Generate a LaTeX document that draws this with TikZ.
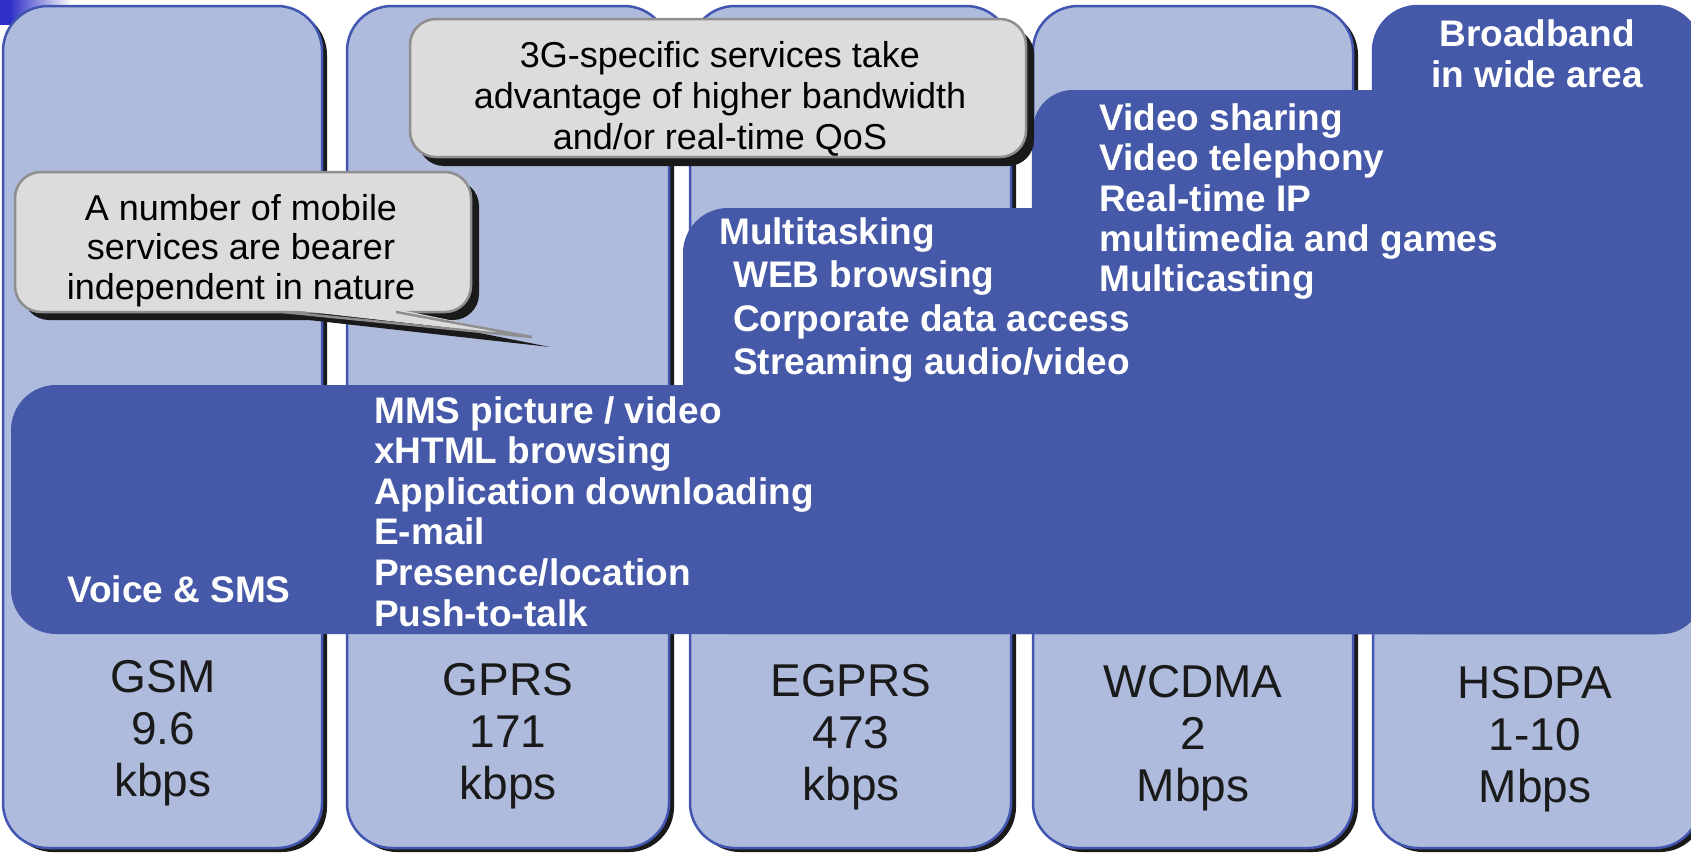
\documentclass[tikz,border=0pt]{standalone}
\usepackage{fontspec}
\setmainfont{Liberation Sans}

\definecolor{colfill}{HTML}{AFBBDD}
\definecolor{colline}{HTML}{4255B0}
\definecolor{bandfill}{HTML}{4659A9}
\definecolor{notefill}{HTML}{DCDCDC}
\definecolor{noteline}{HTML}{8E8E8E}
\definecolor{shadowcol}{HTML}{1A1A1A}
\definecolor{cornerblue}{HTML}{3030C8}
\definecolor{labeltext}{HTML}{1A1A1A}

\tikzset{
  colbox/.style={draw=colline, line width=2.5pt, fill=colfill, rounded corners=45pt},
  colshadow/.style={fill=shadowcol, rounded corners=45pt},
  darkarea/.style={fill=bandfill, rounded corners=45pt},
  notebox/.style={draw=noteline, line width=2.5pt, fill=notefill, rounded corners=26pt},
  noteshadow/.style={fill=shadowcol, rounded corners=26pt},
  rate/.style={font=\fontsize{46}{52}\selectfont, text=labeltext, inner sep=0pt, anchor=base},
  svc/.style={font=\fontsize{37}{40}\selectfont\bfseries, text=white, inner sep=0pt, anchor=base west},
  notetext/.style={font=\fontsize{36}{40}\selectfont, text=black, inner sep=0pt, anchor=base}
}

\begin{document}
\begin{tikzpicture}[x=1pt, y=-1pt]
  \useasboundingbox (0,0) rectangle (1691,852);
  \clip (0,0) rectangle (1691,852);
  \fill[white] (0,0) rectangle (1691,852);

  % small shaded tab in the upper left corner
  \fill[cornerblue] (0,0) rectangle (10,25);
  \shade[left color=cornerblue, right color=white] (10,0) rectangle (72,25);

  % the five bearer columns with drop shadows
  \foreach \lx/\rx in {3/322, 347/669, 690/1011, 1033/1353, 1373/1700}{
    \fill[colshadow] (\lx+5,10) rectangle (\rx+5,852);
    \path[colbox] (\lx,6) rectangle (\rx,848);
  }

  % dark service areas
  \path[darkarea] (11,385) rectangle (1702,634);
  \path[darkarea] (683,208) rectangle (1702,634);
  \path[darkarea, rounded corners=40pt] (1033,90) rectangle (1702,634);
  \path[darkarea] (1373,6) rectangle (1702,634);

  % callout: bearer independent services
  \fill[noteshadow] (23,180) rectangle (479,320);
  \fill[shadowcol] (291,318) -- (550,347) -- (404,318) -- cycle;
  \path[notebox] (15,172) rectangle (471,312);
  \fill[notefill] (283,309) -- (532,337) -- (396,309) -- cycle;
  \draw[noteline, line width=2.5pt, line join=miter] (283,312) -- (532,337) -- (396,312);

  % callout: 3G-specific services
  \fill[noteshadow] (418,28) rectangle (1034,166);
  \path[notebox] (410,19) rectangle (1026,157);

  % bearer names and peak rates
  \foreach \cx/\a/\b/\c/\by [count=\i] in {163/GSM/9.6/kbps/692, 508/GPRS/171/kbps/695,
      851/EGPRS/473/kbps/696, 1193/WCDMA/2/Mbps/697, 1535/HSDPA/1-10/Mbps/698}{
    \node[rate] (tech\i) at (\cx,\by) {\a};
    \node[rate] (speed\i) at (\cx,\by+52) {\b};
    \node[rate] (unit\i) at (\cx,\by+104) {\c};
  }

  % services available on every bearer
  \node[svc] (voice) at (67,602) {Voice \& SMS};
  \foreach \t [count=\i] in {MMS picture / video, xHTML browsing, Application downloading,
      E-mail, Presence/location, Push-to-talk}{
    \node[svc] (gprs\i) at (374,382.4+40.6*\i) {\t};
  }

  % services from EGPRS onwards
  \node[svc] (multi) at (719,244) {Multitasking};
  \foreach \t [count=\i] in {WEB browsing, Corporate data access, Streaming audio/video}{
    \node[svc] (egprs\i) at (733,244+43.5*\i) {\t};
  }

  % services from WCDMA onwards
  \foreach \t [count=\i] in {Video sharing, Video telephony, Real-time IP,
      multimedia and games, Multicasting}{
    \node[svc] (wcdma\i) at (1099,90.2+40.3*\i) {\t};
  }

  % HSDPA
  \node[svc, anchor=base] (bb1) at (1537,46) {Broadband};
  \node[svc, anchor=base] (bb2) at (1537,87) {in wide area};

  % callout texts
  \node[notetext] (na1) at (241,220) {A number of mobile};
  \node[notetext] (na2) at (241,259.5) {services are bearer};
  \node[notetext] (na3) at (241,299) {independent in nature};

  \node[notetext] (nb1) at (720,67) {3G-specific services take};
  \node[notetext] (nb2) at (720,108) {advantage of higher bandwidth};
  \node[notetext] (nb3) at (720,149) {and/or real-time QoS};
\end{tikzpicture}
\end{document}
